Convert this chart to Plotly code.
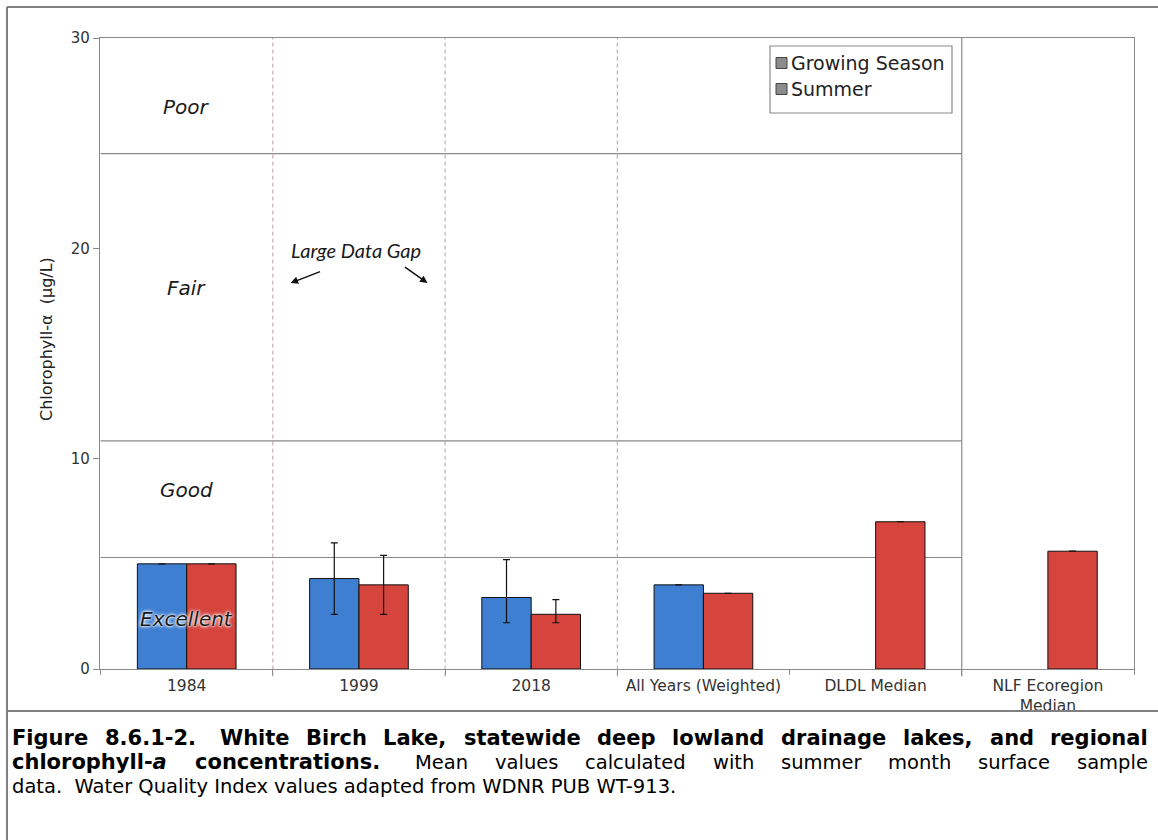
import plotly.graph_objects as go

# Categories and chlorophyll-a means (ug/L)
categories = ["1984", "1999", "2018", "All Years (Weighted)", "DLDL Median", "NLF Ecoregion<br>Median"]
growing_season = [5.0, 4.3, 3.4, 4.0, None, None]
summer = [5.0, 4.0, 2.6, 3.6, 7.0, 5.6]

# Min / max ranges shown as error bars
growing_min = [None, 2.6, 2.2, None, None, None]
growing_max = [None, 6.0, 5.2, None, None, None]
summer_min = [None, 2.6, 2.2, None, None, None]
summer_max = [None, 5.4, 3.3, None, None, None]

# Water Quality Index boundaries and labels
wqi_breaks = [5.3, 10.85, 24.5]
wqi_labels = ["Excellent", "Good", "Fair", "Poor"]
wqi_label_y = [2.4, 8.5, 18.1, 26.7]

series_names = ["Growing Season", "Summer"]
y_ticks = [0, 10, 20, 30]

BLUE = "#3f7fd2"
RED = "#d6443e"
FONT = "DejaVu Sans"


def err_up(vals, hi):
    return [None if h is None else h - v for v, h in zip(vals, hi)]


def err_down(vals, lo):
    return [None if l is None else v - l for v, l in zip(vals, lo)]


fig = go.Figure()
for name, vals, lo, hi, color in [
    (series_names[0], growing_season, growing_min, growing_max, BLUE),
    (series_names[1], summer, summer_min, summer_max, RED),
]:
    fig.add_trace(go.Bar(
        name=name, x=categories, y=vals,
        marker=dict(color=color, line=dict(color="#111111", width=1)),
        error_y=dict(type="data", symmetric=False,
                     array=err_up(vals, hi), arrayminus=err_down(vals, lo),
                     color="#111111", thickness=1.2, width=3.5),
        showlegend=False,
    ))

# plot area in pixels
L, R, T, B = 100, 1134, 38, 669
W, H = 1158, 840


def px(x):
    return (x - L) / (R - L)


def py(y):
    return (B - y) / (B - T)


shapes = []
# index boundaries (stop before the ecoregion column)
for b in wqi_breaks:
    shapes.append(dict(type="line", xref="x", yref="y", x0=-0.5, x1=4.5, y0=b, y1=b,
                       line=dict(color="#8a8a8a", width=1.2), layer="below"))
# category separators
for xb, col in [(0.5, "#bd9c9c"), (1.5, "#a8a8a8"), (2.5, "#bd9c9c")]:
    shapes.append(dict(type="line", xref="x", yref="paper", x0=xb, x1=xb, y0=-0.012, y1=1,
                       line=dict(color=col, width=1, dash="4px,3px"), layer="below"))
shapes.append(dict(type="line", xref="x", yref="paper", x0=4.5, x1=4.5, y0=-0.012, y1=1,
                   line=dict(color="#8a8a8a", width=1.2), layer="below"))

# outer frame and caption separator
SEP_Y = 711
shapes.append(dict(type="line", xref="paper", yref="paper", x0=px(7), x1=px(W), y0=py(7), y1=py(7),
                   line=dict(color="#808080", width=2)))
shapes.append(dict(type="line", xref="paper", yref="paper", x0=px(7), x1=px(7), y0=py(7), y1=py(H),
                   line=dict(color="#808080", width=2)))
shapes.append(dict(type="line", xref="paper", yref="paper", x0=px(7), x1=px(W), y0=py(SEP_Y), y1=py(SEP_Y),
                   line=dict(color="#808080", width=2)))

# legend box
shapes.append(dict(type="rect", xref="paper", yref="paper", x0=px(770), x1=px(952), y0=py(113), y1=py(46),
                   line=dict(color="#8a8a8a", width=1.2), fillcolor="white"))
legend_rows = [63, 89]
for yy in legend_rows:
    shapes.append(dict(type="rect", xref="paper", yref="paper", x0=px(776), x1=px(787),
                       y0=py(yy + 5.5), y1=py(yy - 5.5),
                       line=dict(color="#444444", width=1), fillcolor="#8c8c8c"))

annotations = []
for name, yy in zip(series_names, legend_rows):
    annotations.append(dict(xref="paper", yref="paper", x=px(789), y=py(yy), text=name,
                            showarrow=False, xanchor="left", yanchor="middle",
                            font=dict(family=FONT, size=19, color="#222222")))

for lab, yv in zip(wqi_labels, wqi_label_y):
    annotations.append(dict(xref="x", yref="y", x=0, y=yv, text=lab, showarrow=False,
                            font=dict(family=FONT, size=20, color="#1a1a1a", style="italic",
                                      shadow="0 0 2px white, 0 0 3px white, 0 0 4px white")))

annotations.append(dict(xref="x", yref="y", x=0.98, y=19.9, text="Large Data Gap", showarrow=False,
                        font=dict(family="Lato", size=20, color="#1a1a1a", style="italic")))
annotations.append(dict(xref="x", yref="y", x=0.603, y=18.35, text="", showarrow=True,
                        ax=31, ay=-12, arrowhead=2, arrowsize=1, arrowwidth=1.5, arrowcolor="#111111"))
annotations.append(dict(xref="x", yref="y", x=1.398, y=18.35, text="", showarrow=True,
                        ax=-24, ay=-17, arrowhead=2, arrowsize=1, arrowwidth=1.5, arrowcolor="#111111"))

# y-axis title
annotations.append(dict(xref="paper", yref="paper", x=px(46), y=py(339), text="Chlorophyll-α\u00a0 (µg/L)",
                        textangle=-90, showarrow=False, xanchor="center", yanchor="middle",
                        font=dict(family=FONT, size=16, color="#222222")))

# ---- caption, full-justified between the frame margins ----
# approximate advance widths (em/1000) for the caption typeface
REG = dict(zip("abcdefghijklmnopqrstuvwxyz", [613, 635, 550, 635, 615, 352, 635, 634, 278, 278, 579, 278, 974,
                                              634, 612, 635, 635, 411, 521, 392, 634, 592, 818, 592, 592, 525]))
REG.update({"M": 863, "W": 989, "Q": 787, "I": 295, "D": 770, "N": 748, "R": 695, "P": 603, "U": 732,
            "B": 686, "T": 611, "L": 557, "F": 575, ".": 318, ",": 318, "-": 361, " ": 318})
REG.update({d: 636 for d in "0123456789"})
BOLD = dict(zip("abcdefghijklmnopqrstuvwxyz", [675, 716, 593, 716, 678, 435, 716, 712, 343, 343, 665, 343, 1042,
                                               712, 687, 716, 716, 493, 595, 478, 712, 652, 924, 645, 652, 582]))
BOLD.update({"W": 1103, "B": 762, "L": 637, "F": 683, ".": 380, ",": 380, "-": 415, " ": 348})
BOLD.update({d: 696 for d in "0123456789"})

CAP_SIZE = 19.5
CAP_BOLD_SIZE = 21
CAP_X0, CAP_X1 = 10, 1146


def word_width(word, bold):
    table, size = (BOLD, CAP_BOLD_SIZE) if bold else (REG, CAP_SIZE)
    return sum(table.get(c, 600) for c in word) * size / 1000


cap_line1 = [(w, True) for w in "Figure 8.6.1-2. White Birch Lake, statewide deep lowland drainage lakes, and regional".split()]
cap_line2 = [("chlorophyll-a", True), ("concentrations.", True)] + \
    [(w, False) for w in "Mean values calculated with summer month surface sample".split()]
cap_line3 = "data.\u00a0 Water Quality Index values adapted from WDNR PUB WT-913."
cap_rows = [738, 762, 786]


def fmt(word, bold):
    if word == "chlorophyll-a":
        word = "chlorophyll-<i>a</i>"
    return f"<b>{word}</b>" if bold else word


for words, yy in [(cap_line1, cap_rows[0]), (cap_line2, cap_rows[1])]:
    widths = [word_width(w, b) for w, b in words]
    # sentence breaks get a double space
    gap_mult = [2 if (w.startswith("8.") or w.endswith("ions.")) else 1 for w, b in words[:-1]]
    base_gaps = [(BOLD[" "] * CAP_BOLD_SIZE if b else REG[" "] * CAP_SIZE) / 1000 * g
                 for (w, b), g in zip(words[:-1], gap_mult)]
    slack = (CAP_X1 - CAP_X0) - sum(widths) - sum(base_gaps)
    add = max(slack, 0) / (len(words) - 1)
    xpos = CAP_X0
    for i, (w, b) in enumerate(words):
        size = CAP_BOLD_SIZE if b else CAP_SIZE
        annotations.append(dict(xref="paper", yref="paper", x=px(xpos), y=py(yy), text=fmt(w, b),
                                showarrow=False, xanchor="left", yanchor="middle",
                                font=dict(family=FONT, size=size, color="#000000")))
        if i < len(words) - 1:
            xpos += widths[i] + base_gaps[i] + add

annotations.append(dict(xref="paper", yref="paper", x=px(CAP_X0), y=py(cap_rows[2]), text=cap_line3,
                        showarrow=False, xanchor="left", yanchor="middle",
                        font=dict(family=FONT, size=CAP_SIZE, color="#000000")))

fig.update_layout(
    width=W, height=H,
    margin=dict(l=L, r=W - R, t=T, b=H - B, pad=0),
    paper_bgcolor="white", plot_bgcolor="white",
    barmode="group", bargap=0.427, bargroupgap=0,
    shapes=shapes, annotations=annotations,
    font=dict(family=FONT, color="#333333"),
    xaxis=dict(type="category", categoryorder="array", categoryarray=categories,
               showline=True, linecolor="#8a8a8a", linewidth=1.2, mirror=True,
               ticks="outside", tickson="boundaries", ticklen=5, tickcolor="#8a8a8a",
               ticklabelstandoff=2,
               showgrid=False, tickfont=dict(family=FONT, size=15.5, color="#333333")),
    yaxis=dict(range=[0, 30], tickvals=y_ticks, showline=True, linecolor="#8a8a8a", linewidth=1.2,
               mirror=True, ticks="outside", ticklen=6, tickcolor="#8a8a8a", showgrid=False,
               zeroline=False, tickfont=dict(family=FONT, size=15, color="#333333")),
)

fig.write_html("out.html")
